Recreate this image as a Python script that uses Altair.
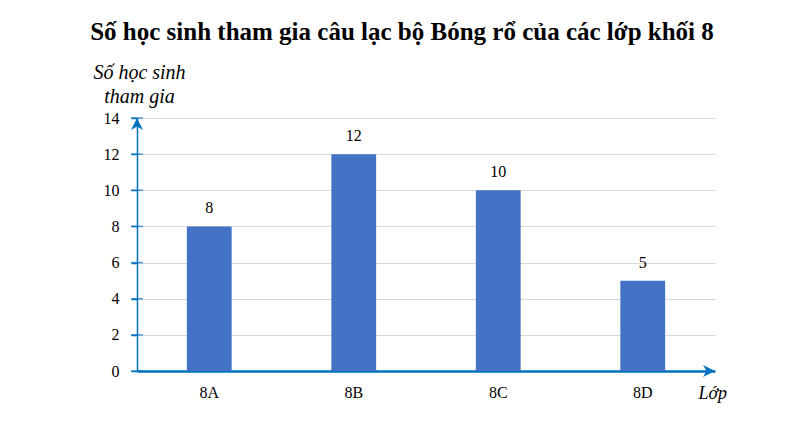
import altair as alt
import pandas as pd

classes = ["8A", "8B", "8C", "8D"]
students = [8, 12, 10, 5]
y_ticks = [0, 2, 4, 6, 8, 10, 12, 14]

BLUE = "#0070C0"
BAR = "#4472C4"
FONT = "Liberation Serif"
W, H = 578, 253

df = pd.DataFrame({"cls": classes, "val": students})
tick_df = pd.DataFrame({"val": y_ticks})
top_df = pd.DataFrame({"val": [max(y_ticks)]})

x_enc = alt.X(
    "cls:N",
    sort=classes,
    scale=alt.Scale(paddingInner=0.69, paddingOuter=0.345),
    axis=alt.Axis(
        title="Lớp", titleX=561, titleY=27, titleAlign="left",
        titleBaseline="alphabetic", titleAngle=0,
        titleFont=FONT, titleFontSize=18, titleFontStyle="italic",
        titleFontWeight="normal", titleColor="black",
        labelAngle=0, labelFont=FONT, labelFontSize=16, labelColor="black",
        labelPadding=13, ticks=False, tickSize=0,
        domainColor=BLUE, domainWidth=2.5, grid=False,
    ),
)

y_axis = alt.Axis(
    values=y_ticks,
    title=["Số học sinh", "tham gia"], titleAngle=0,
    titleX=2, titleY=-40, titleAlign="center", titleBaseline="alphabetic",
    titleFont=FONT, titleFontSize=20, titleFontStyle="italic",
    titleFontWeight="normal", titleColor="black", titleLineHeight=24,
    labelFont=FONT, labelFontSize=16, labelColor="black", labelPadding=12,
    tickSize=6, tickColor=BLUE, tickWidth=1.5,
    domainColor=BLUE, domainWidth=1.5,
    grid=True, gridColor="#d9d9d9", gridWidth=1,
)

y_enc = alt.Y("val:Q", scale=alt.Scale(domain=[0, 14]), axis=y_axis)

bars = alt.Chart(df).mark_bar(color=BAR).encode(x=x_enc, y=y_enc)

labels = alt.Chart(df).mark_text(
    dy=-13, baseline="alphabetic", font=FONT, fontSize=16, color="black"
).encode(x=alt.X("cls:N", sort=classes), y=alt.Y("val:Q", axis=y_axis), text="val:Q")

yticks = alt.Chart(tick_df).mark_tick(
    orient="horizontal", size=12, thickness=1.5, color=BLUE
).encode(y=alt.Y("val:Q", axis=y_axis), x=alt.value(0))

up_arrow = alt.Chart(top_df).mark_point(
    shape="M0,0 L1,2 L0,1.4 L-1,2 Z", size=144, filled=True,
    color=BLUE, opacity=1, strokeWidth=0
).encode(y=alt.Y("val:Q", axis=y_axis), x=alt.value(0))

right_arrow = alt.Chart(top_df).mark_point(
    shape="M0,0 L-2,-1 L-1.4,0 L-2,1 Z", size=144, filled=True,
    color=BLUE, opacity=1, strokeWidth=0
).encode(x=alt.value(W), y=alt.value(H))

chart = alt.layer(bars, labels, yticks, up_arrow, right_arrow).properties(
    width=W, height=H,
    title=alt.TitleParams(
        "Số học sinh tham gia câu lạc bộ Bóng rổ của các lớp khối 8",
        font=FONT, fontSize=25, fontWeight="bold", color="black",
        anchor="start", align="center", dx=265, frame="group",
        baseline="alphabetic", offset=-3,
    ),
    autosize=alt.AutoSizeParams(type="none"),
    padding={"left": 129, "top": 110, "right": 81, "bottom": 45},
).configure(background="white", view=alt.ViewConfig(stroke=None))

chart.save("out.html", embed_options={"renderer": "svg", "actions": False})
